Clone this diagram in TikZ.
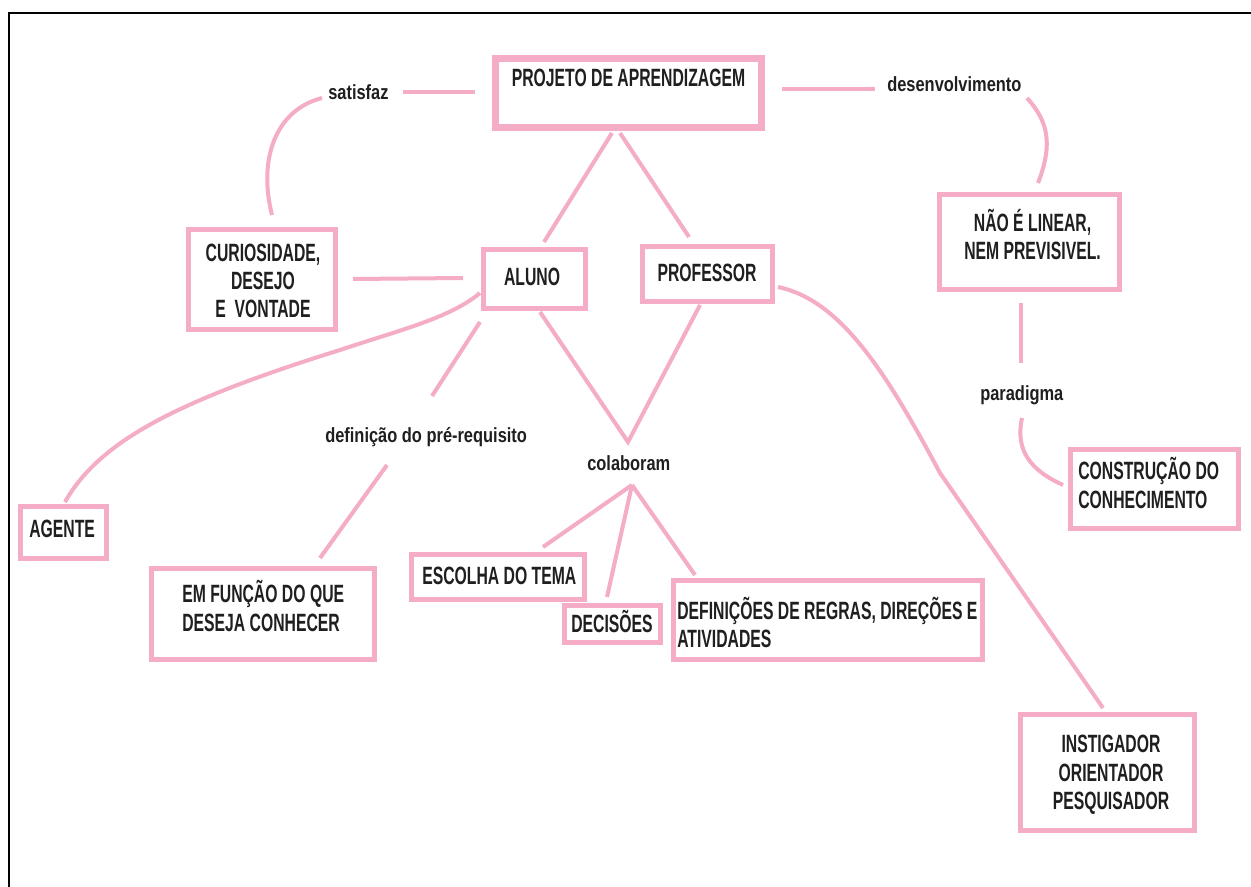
\documentclass[tikz,border=0pt]{standalone}
\usepackage{fontspec}
\setmainfont{Liberation Sans}[FakeStretch=0.63]
\newfontfamily\lblfont{Liberation Sans}[FakeStretch=0.8]
\definecolor{mappink}{RGB}{245,172,198}
\begin{document}
\begin{tikzpicture}[x=0.75pt,y=-0.75pt,
  box/.style={draw=mappink,line width=3.75pt,fill=white,inner sep=0pt},
  bigbox/.style={box,line width=5.25pt},
  txt/.style={inner sep=0pt,font=\bfseries\fontsize{18.75}{21}\selectfont,text=black!88},
  lbl/.style={inner sep=0pt,anchor=base west,font=\lblfont\bfseries\fontsize{15.4}{18}\selectfont,text=black!88},
  conn/.style={draw=mappink,line width=3pt}]
\useasboundingbox (0,0) rectangle (1251,887);
\fill[white] (0,0) rectangle (1251,887);
\draw[line width=1.5pt,black] (9,887) -- (9,13) -- (1251,13);

% boxes
\node[bigbox,minimum width=199.5pt,minimum height=51.75pt] (proj) at (628.5,93) {};
\node[box,minimum width=76.5pt,minimum height=44.25pt] (aluno) at (534.5,279) {};
\node[box,minimum width=97.5pt,minimum height=41.25pt] (prof) at (707.5,274) {};
\node[box,minimum width=110.25pt,minimum height=75pt] (curio) at (262,279.5) {};
\node[box,minimum width=135pt,minimum height=71.25pt] (nao) at (1029.5,242) {};
\node[box,minimum width=126pt,minimum height=59.25pt] (constr) at (1154.5,489) {};
\node[box,minimum width=64.5pt,minimum height=39pt] (agente) at (63.5,532.5) {};
\node[box,minimum width=167.25pt,minimum height=68.25pt] (emfunc) at (263,614) {};
\node[box,minimum width=129.75pt,minimum height=33.75pt] (escolha) at (498,577) {};
\node[box,minimum width=72pt,minimum height=27.75pt] (decis) at (612.5,624) {};
\node[box,minimum width=231.75pt,minimum height=59.25pt] (defin) at (828,620) {};
\node[box,minimum width=130.5pt,minimum height=87pt] (instig) at (1107.5,772.5) {};

% box texts
\node[txt,anchor=base] (tproj) at (628.5,86.5) {PROJETO DE APRENDIZAGEM};
\node[txt,anchor=base] (taluno) at (532,286) {ALUNO};
\node[txt,anchor=base] (tprof) at (707,282) {PROFESSOR};
\node[txt,anchor=base] (tcurioa) at (263,262) {CURIOSIDADE,};
\node[txt,anchor=base] (tcuriob) at (263,290) {DESEJO};
\node[txt,anchor=base] (tcurioc) at (263,318) {E\ \ VONTADE};
\node[txt,anchor=base] (tnaoa) at (1032.5,232) {NÃO É LINEAR,};
\node[txt,anchor=base] (tnaob) at (1032.5,260) {NEM PREVISIVEL.};
\node[txt,anchor=base west] (tconstra) at (1078,479) {CONSTRUÇÃO DO};
\node[txt,anchor=base west] (tconstrb) at (1078,508) {CONHECIMENTO};
\node[txt,anchor=base west] (tagente) at (29,537) {AGENTE};
\node[txt,anchor=base west] (temfunca) at (182,602) {EM FUNÇÃO DO QUE};
\node[txt,anchor=base west] (temfuncb) at (182,631) {DESEJA CONHECER};
\node[txt,anchor=base west] (tescolha) at (422,584) {ESCOLHA DO TEMA};
\node[txt,anchor=base west] (tdecis) at (571,632) {DECISÕES};
\node[txt,anchor=base west] (tdefina) at (677,619) {DEFINIÇÕES DE REGRAS, DIREÇÕES E};
\node[txt,anchor=base west] (tdefinb) at (677,647) {ATIVIDADES};
\node[txt,anchor=base] (tinstiga) at (1111,752) {INSTIGADOR};
\node[txt,anchor=base] (tinstigb) at (1111,781) {ORIENTADOR};
\node[txt,anchor=base] (tinstigc) at (1111,809) {PESQUISADOR};

% labels
\node[lbl] (satisfaz) at (328,100) {satisfaz};
\node[lbl] (desenv) at (887,92) {desenvolvimento};
\node[lbl] (paradigma) at (980,400) {paradigma};
\node[lbl] (defpre) at (325,442) {definição do pré-requisito};
\node[lbl] (colab) at (587,470) {colaboram};

% connector ends
\coordinate (s1) at (403,92);  \coordinate (s2) at (475,92);
\coordinate (s3) at (322,98);  \coordinate (s4) at (272,215);
\coordinate (ca1) at (353,279); \coordinate (ca2) at (463,278);
\coordinate (pa1) at (612,133); \coordinate (pa2) at (544,242);
\coordinate (pp1) at (620,133); \coordinate (pp2) at (689,237);
\coordinate (d1) at (782,89);  \coordinate (d2) at (875,89);
\coordinate (d3) at (1027,98); \coordinate (d4) at (1038,183);
\coordinate (n1) at (1021,303); \coordinate (n2) at (1021,363);
\coordinate (p1) at (1022,418); \coordinate (p2) at (1063,485);
\coordinate (i1) at (778,287); \coordinate (i2) at (940,473); \coordinate (i3) at (1103,708);
\coordinate (g1) at (480,293); \coordinate (gm) at (340,350); \coordinate (g2) at (65,502);
\coordinate (r1) at (480,322); \coordinate (r2) at (432,396);
\coordinate (r3) at (387,465); \coordinate (r4) at (320,558);
\coordinate (v1) at (540,312); \coordinate (vx) at (628,442); \coordinate (v2) at (700,305);
\coordinate (cx) at (632,485);
\coordinate (e1) at (543,547); \coordinate (e2) at (607,597); \coordinate (e3) at (695,575);

% connectors
\draw[conn] (s1) -- (s2);
\draw[conn] (s3) .. controls (275,110) and (258,160) .. (s4);
\draw[conn] (ca1) -- (ca2);
\draw[conn] (pa1) -- (pa2);
\draw[conn] (pp1) -- (pp2);
\draw[conn] (d1) -- (d2);
\draw[conn] (d3) .. controls (1045,118) and (1055,140) .. (d4);
\draw[conn] (n1) -- (n2);
\draw[conn] (p1) .. controls (1015,450) and (1030,470) .. (p2);
\draw[conn] (i1) .. controls (840,300) and (885,370) .. (i2) -- (i3);
\draw[conn] (g1) .. controls (450,318) and (400,330) .. (gm) .. controls (180,400) and (100,440) .. (g2);
\draw[conn] (r1) -- (r2);
\draw[conn] (r3) -- (r4);
\draw[conn] (v1) -- (vx) -- (v2);
\draw[conn] (cx) -- (e1);
\draw[conn] (cx) -- (e2);
\draw[conn] (cx) -- (e3);
\end{tikzpicture}
\end{document}
